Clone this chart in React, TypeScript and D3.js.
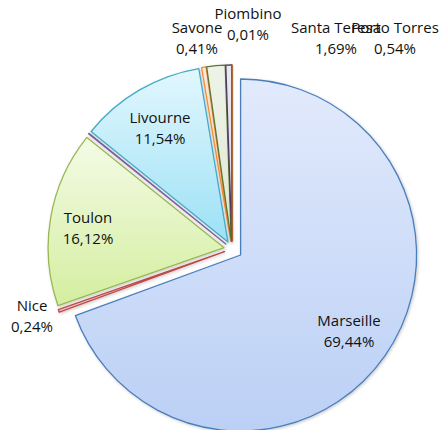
import React from "react";
import * as d3 from "d3";

const categories = ["Marseille", "Nice", "Toulon", "", "Livourne", "Savone", "Santa Teresa", "Porto Torres", "Piombino"];
const values = [69.44, 0.24, 16.12, 0.05, 11.54, 0.41, 1.69, 0.54, 0.01];
const percentLabels = ["69,44%", "0,24%", "16,12%", "", "11,54%", "0,41%", "1,69%", "0,54%", "0,01%"];

const W = 440;
const H = 430;
const CX = 232;
const CY = 249;
const R = 176;

const styles: Record<string, { stroke: string; top: string; bottom: string; explode: number }> = {
  Marseille: { stroke: "#4A7EBB", top: "#e2eafc", bottom: "#bbd0f5", explode: 10.5 },
  Nice: { stroke: "#BE4B48", top: "#f6dedd", bottom: "#eec9c8", explode: 8 },
  Toulon: { stroke: "#98B954", top: "#f4fbe6", bottom: "#d4eea0", explode: 8 },
  "": { stroke: "#7D60A0", top: "#ebe6f3", bottom: "#ddd5ea", explode: 8 },
  Livourne: { stroke: "#46AAC5", top: "#e2f7fd", bottom: "#9de1f6", explode: 8 },
  Savone: { stroke: "#F68C36", top: "#feeadb", bottom: "#fcd8bb", explode: 8 },
  "Santa Teresa": { stroke: "#5E7530", top: "#eef3e8", bottom: "#e0e8d4", explode: 8 },
  "Porto Torres": { stroke: "#4D3B62", top: "#ebe8f0", bottom: "#dcd6e6", explode: 8 },
  Piombino: { stroke: "#B65708", top: "#f6dcc6", bottom: "#edc6a5", explode: 8 },
};

// label layout (text centre x, first baseline y)
const labelPos: Record<string, [number, number]> = {
  Marseille: [349, 326],
  Nice: [32, 311],
  Toulon: [88, 223],
  Livourne: [160, 123],
  Savone: [197, 33],
  "Santa Teresa": [336, 33],
  "Porto Torres": [395, 33],
  Piombino: [248, 19],
};

export default function App() {
  const data = categories.map((c, i) => ({ name: c, value: values[i], pct: percentLabels[i] }));
  const pie = d3
    .pie<{ name: string; value: number; pct: string }>()
    .sort(null)
    .value((d) => d.value)
    .startAngle(0)
    .endAngle(2 * Math.PI);
  const arcs = pie(data);
  const arcGen = d3.arc<d3.PieArcDatum<{ name: string; value: number; pct: string }>>().innerRadius(0).outerRadius(R);
  const font = "'Open Sans', 'Noto Sans', sans-serif";

  return (
    <svg width={W} height={H} style={{ position: "absolute", left: 0, top: 0, background: "#fff" }}>
      <defs>
        {arcs.map((a, i) => {
          const s = styles[a.data.name];
          return (
            <linearGradient key={i} id={`g${i}`} x1="0" y1="0" x2="0" y2="1">
              <stop offset="0%" stopColor={s.top} />
              <stop offset="100%" stopColor={s.bottom} />
            </linearGradient>
          );
        })}
        <filter id="sh" x="-20%" y="-20%" width="140%" height="140%">
          <feDropShadow dx="1" dy="1" stdDeviation="1.5" floodColor="#000" floodOpacity="0.22" />
        </filter>
      </defs>
      <g transform={`translate(${CX},${CY})`}>
        {arcs.map((a, i) => {
          const s = styles[a.data.name];
          const mid = (a.startAngle + a.endAngle) / 2;
          const dx = s.explode * Math.sin(mid);
          const dy = -s.explode * Math.cos(mid);
          return (
            <path
              key={i}
              d={arcGen(a) || ""}
              transform={`translate(${dx},${dy})`}
              fill={`url(#g${i})`}
              stroke={s.stroke}
              strokeWidth={1.3}
              strokeLinejoin="round"
              filter="url(#sh)"
            />
          );
        })}
      </g>
      {arcs.map((a, i) => {
        const p = labelPos[a.data.name];
        if (!p) return null;
        return (
          <text key={`t${i}`} x={p[0]} y={p[1]} textAnchor="middle" fontFamily={font} fontSize={15} fill="#111">
            <tspan x={p[0]}>{a.data.name}</tspan>
            <tspan x={p[0]} dy={21}>
              {a.data.pct}
            </tspan>
          </text>
        );
      })}
    </svg>
  );
}
